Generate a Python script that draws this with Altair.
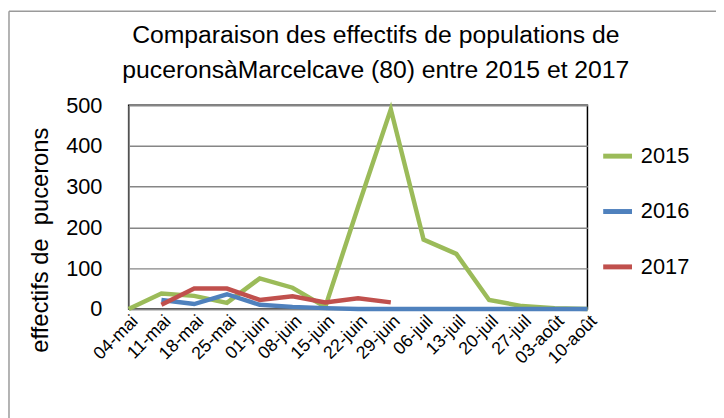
import altair as alt
import pandas as pd

dates = ["04-mai", "11-mai", "18-mai", "25-mai", "01-juin", "08-juin", "15-juin",
         "22-juin", "29-juin", "06-juil", "13-juil", "20-juil", "27-juil", "03-août", "10-août"]
v2015 = [0, 38, 32, 15, 75, 52, 5, 250, 490, 170, 135, 22, 7, 2, 0]
v2016 = [None, 22, 12, 36, 10, 5, 2, 0, 0, 0, 0, 0, 0, 0, 0]
v2017 = [None, 10, 50, 50, 22, 31, 16, 26, 16, None, None, None, None, None, None]
series = ["2015", "2016", "2017"]
colors = ["#9BBB59", "#4F81BD", "#C0504D"]

rows = []
for name, vals in zip(series, [v2015, v2016, v2017]):
    for d, v in zip(dates, vals):
        if v is not None:
            rows.append({"date": d, "valeur": v, "annee": name})
df = pd.DataFrame(rows)

FONT = "Liberation Sans"

lines = alt.Chart(df).mark_line(strokeWidth=4.5, strokeJoin="miter").encode(
    x=alt.X("date:N", sort=dates, scale=alt.Scale(type="point", padding=0),
            axis=alt.Axis(title=None, labelAngle=-45, labelFontSize=18, labelColor="black",
                          labelAlign="right", labelBaseline="top", labelPadding=3,
                          ticks=False, domainColor="#868686", domainWidth=1.5,
                          labelFont=FONT, grid=False)),
    y=alt.Y("valeur:Q", scale=alt.Scale(domain=[0, 500], nice=False),
            axis=alt.Axis(title="effectifs de\u00a0\u00a0pucerons", values=[0, 100, 200, 300, 400, 500],
                          labelFontSize=22, labelColor="black", labelFont=FONT,
                          titleFontSize=24, titleFont=FONT, titleFontWeight="normal",
                          titleColor="black", titleAngle=270, titleAlign="center",
                          titleBaseline="middle", titleX=-89, titleY=136,
                          ticks=False, labelPadding=27, domainColor="#868686", domainWidth=1.5,
                          gridColor="#868686", gridWidth=1.5)),
    color=alt.Color("annee:N", scale=alt.Scale(domain=series, range=colors),
                    legend=alt.Legend(title=None, orient="none", legendX=477, legendY=34,
                                      symbolType="stroke", symbolStrokeWidth=5,
                                      symbolSize=850, labelFontSize=22, labelFont=FONT,
                                      labelColor="black", rowPadding=27, labelOffset=6)),
)

frame_df = pd.DataFrame({"k": [0]})
top_rule = alt.Chart(frame_df).mark_rule(color="#9a9a9a", strokeWidth=1.5).encode(
    x=alt.value(-121), x2=alt.value(600), y=alt.value(-95))
left_rule = alt.Chart(frame_df).mark_rule(color="#9a9a9a", strokeWidth=1.5).encode(
    x=alt.value(-121), y=alt.value(-95), y2=alt.value(320))

chart = alt.layer(lines, top_rule, left_rule).properties(
    width=464, height=206,
    padding={"left": 122, "top": 96, "right": 130, "bottom": 108},
    autosize=alt.AutoSizeParams(type="none"),
    title=alt.TitleParams(["Comparaison des effectifs de populations de",
                           "puceronsàMarcelcave (80) entre 2015 et 2017"],
                          font=FONT, fontSize=25, fontWeight="normal", color="black",
                          anchor="middle", dx=18, offset=-73, lineHeight=35),
).configure_view(stroke="black", strokeWidth=1.5)

chart.save("out.html", embed_options={"renderer": "svg", "actions": False})
